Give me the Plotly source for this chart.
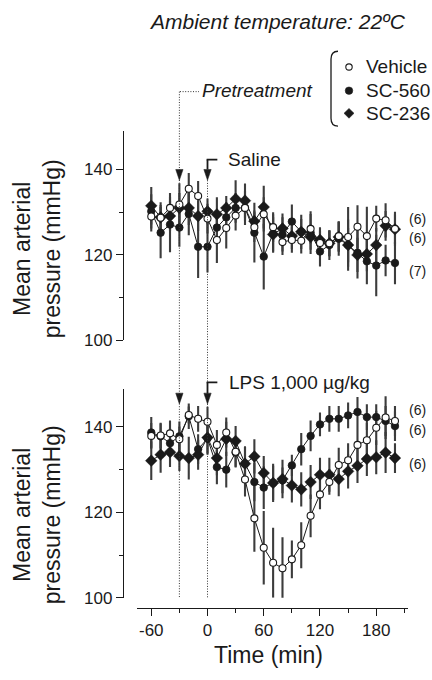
import plotly.graph_objects as go

# ---------------- data ----------------
time = [-60, -50, -40, -30, -20, -10, 0, 10, 20, 30, 40, 50, 60, 70, 80,
        90, 100, 110, 120, 130, 140, 150, 160, 170, 180, 190, 200]

# Top panel: Saline
veh_sal = [129.0, 128.7, 131.0, 131.8, 135.5, 133.8, 128.5, 123.5, 126.3, 129.2, 131.0, 126.5, 129.5, 126.5,
           123.0, 123.5, 123.3, 126.1, 122.8, 122.7, 124.4, 124.2, 126.6, 124.4, 128.5, 128.1, 126.1]
sc560_sal = [130.2, 125.2, 127.1, 126.4, 129.6, 121.9, 121.9, 126.4, 128.8, 131.0, 131.0, 125.2, 119.6, 125.0,
             124.8, 127.8, 125.4, 125.2, 120.8, 122.3, 123.8, 122.3, 120.5, 118.5, 117.5, 118.7, 118.1]
sc236_sal = [131.5, 128.8, 129.1, 131.0, 131.0, 129.1, 130.2, 129.5, 131.0, 133.1, 132.7, 127.9, 131.2, 124.8,
             126.2, 124.4, 125.4, 124.2, 123.5, 122.7, 124.2, 122.3, 120.0, 120.2, 122.3, 126.8, 126.0]
veh_sal_err = [3.5, 3, 3.5, 5, 3.7, 3.5, 3.5, 5.4, 4.8, 3.5, 3, 3.5, 4, 3.5, 3, 3, 3, 3.5, 3, 3, 3.5, 7, 5,
               6.9, 3, 4, 4]
sc560_sal_err = [4, 6, 6.5, 4.5, 5, 7.3, 6, 4, 3.5, 3.5, 4, 7, 7.7, 4.5, 4, 4, 4, 5, 3.5, 3.5, 4, 6, 6, 5.4,
                 7.2, 3.7, 5]
sc236_sal_err = [4.4, 3.5, 3.5, 3.5, 4, 3.5, 3, 4, 2.8, 4.4, 4, 2.5, 5, 4, 3.5, 3, 3, 3, 3, 3, 3.5, 4, 4, 4,
                 4, 3.5, 3.5]

# Bottom panel: LPS
veh_lps = [137.9, 138.0, 138.5, 137.1, 142.8, 141.9, 141.2, 135.8, 138.7, 134.2, 127.7, 118.6, 111.7, 108.2,
           106.9, 109.0, 112.3, 119.2, 124.2, 127.1, 131.1, 132.2, 135.8, 136.9, 139.8, 142.2, 141.4]
sc560_lps = [138.7, 137.8, 136.2, 137.8, 142.5, 134.8, 137.3, 130.6, 130.0, 134.0, 131.4, 127.1, 125.8, 126.9,
             127.5, 131.0, 134.8, 137.9, 140.6, 141.9, 141.9, 142.7, 143.5, 142.3, 142.3, 141.4, 140.2]
sc236_lps = [132.1, 133.5, 134.1, 133.2, 132.7, 133.5, 137.5, 132.7, 137.2, 136.7, 131.4, 133.1, 129.2, 126.9,
             127.8, 126.3, 125.4, 127.1, 128.8, 128.8, 127.8, 129.6, 130.9, 132.5, 132.9, 134.0, 132.7]
veh_lps_err = [3, 3, 3, 3, 2, 3, 3.5, 3.5, 3.5, 3.5, 4, 7.8, 8.6, 8.2, 7.3, 4.4, 5.4, 5, 3.5, 3, 4, 4, 4.2, 4,
               4, 5, 3.5]
sc560_lps_err = [3.6, 3, 3.5, 3.5, 3, 3.5, 3.5, 4, 4.2, 3.5, 4, 4.5, 5, 4, 3, 2.5, 3.8, 3.6, 2.8, 3, 3, 3, 3.5,
                 3, 3, 3.5, 3.5]
sc236_lps_err = [4.5, 4.2, 3.5, 3.5, 5, 3.5, 4, 4, 4, 3.5, 4, 4, 4, 4.5, 4.5, 4, 4, 4, 4, 4, 4, 4, 4, 4, 4,
                 4.8, 3.5]

series_names = ["Vehicle", "SC-560", "SC-236"]
n_labels_sal = ["(6)", "(6)", "(7)"]
n_pos_sal = [128.5, 123.9, 116.3]
n_labels_lps = ["(6)", "(6)", "(6)"]
n_pos_lps = [144.0, 139.4, 131.3]

x_ticks = [-60, 0, 60, 120, 180]
x_ticktext = ["-60", "0", "60", "120", "180"]
x_minor = [-30, 30, 90, 150, 210]
y_ticks = [100, 120, 140]
y_minor = [110, 130]

# ---------------- layout helpers ----------------
W, H = 432, 680
FONT = "Liberation Sans, Arial, sans-serif"
INK = "#1a1a1a"


def px(x):
    return x / W


def py(y):
    return 1 - y / H


styles = {
    "Vehicle": dict(symbol="circle", color="white", size=7, line=dict(color=INK, width=1.1)),
    "SC-560": dict(symbol="circle", color=INK, size=7.5, line=dict(color=INK, width=0.8)),
    "SC-236": dict(symbol="diamond", color=INK, size=9, line=dict(color=INK, width=0.4)),
}

fig = go.Figure()

panels = [
    ("x", "y", [veh_sal, sc560_sal, sc236_sal], [veh_sal_err, sc560_sal_err, sc236_sal_err]),
    ("x2", "y2", [veh_lps, sc560_lps, sc236_lps], [veh_lps_err, sc560_lps_err, sc236_lps_err]),
]

for xa, ya, vals, errs in panels:
    # error bars first (behind everything)
    for name, v, e in zip(series_names, vals, errs):
        fig.add_trace(go.Scatter(
            x=time, y=v, xaxis=xa, yaxis=ya, mode="markers",
            marker=dict(size=1, color="rgba(0,0,0,0)"),
            error_y=dict(type="data", array=e, visible=True, color="#3c3c3c", thickness=2.1, width=0),
            showlegend=False, hoverinfo="skip"))
    # lines + markers, SC-236 then SC-560 then Vehicle on top
    for idx in [2, 1, 0]:
        name = series_names[idx]
        fig.add_trace(go.Scatter(
            x=time, y=vals[idx], xaxis=xa, yaxis=ya, mode="lines+markers",
            line=dict(color=INK, width=1.0), marker=styles[name],
            showlegend=False, name=name, cliponaxis=False))

xdom = [px(137.2), px(408.1)]
xr = [-75, 214]
yr = [100, 149]

axis_common = dict(showgrid=False, zeroline=False, showline=True, linecolor=INK, linewidth=1.3,
                   ticks="outside", tickcolor=INK, tickwidth=1.3,
                   tickfont=dict(family=FONT, size=17, color=INK))

fig.update_layout(
    width=W, height=H, margin=dict(l=0, r=0, t=0, b=0),
    paper_bgcolor="white", plot_bgcolor="white",
    font=dict(family=FONT, color=INK),
    showlegend=False,
    xaxis=dict(domain=xdom, range=xr, visible=False, anchor="y"),
    yaxis=dict(domain=[py(345.4), py(133.0)], range=yr, anchor="free", position=px(123),
               tickmode="array", tickvals=y_ticks, ticklen=7,
               minor=dict(tickmode="array", tickvals=y_minor, ticklen=3.5, ticks="outside",
                          tickcolor=INK, tickwidth=1.3, showgrid=False),
               **axis_common),
    xaxis2=dict(domain=xdom, range=xr, anchor="free", position=py(617),
                tickmode="array", tickvals=x_ticks, ticktext=x_ticktext, ticklen=7,
                minor=dict(tickmode="array", tickvals=x_minor, ticklen=4, ticks="outside",
                           tickcolor=INK, tickwidth=1.3, showgrid=False),
                **axis_common),
    yaxis2=dict(domain=[py(606.7), py(394.3)], range=yr, anchor="free", position=px(123),
                tickmode="array", tickvals=y_ticks, ticklen=7,
                minor=dict(tickmode="array", tickvals=y_minor, ticklen=3.5, ticks="outside",
                           tickcolor=INK, tickwidth=1.3, showgrid=False),
                **axis_common),
)

ann = []
ann.append(dict(text="<i>Ambient temperature: 22ºC</i>", x=px(277.5), y=py(22), xref="paper", yref="paper",
                showarrow=False, font=dict(size=21), xanchor="center", yanchor="middle"))
ann.append(dict(text="<i>Pretreatment</i>", x=px(315), y=py(92), xref="paper", yref="paper",
                showarrow=False, font=dict(size=19), xanchor="right", yanchor="middle"))
ann.append(dict(text="Saline", x=px(226), y=py(162), xref="paper", yref="paper",
                showarrow=False, font=dict(size=19), xanchor="left", yanchor="middle"))
ann.append(dict(text="LPS 1,000 µg/kg", x=px(227), y=py(388), xref="paper", yref="paper",
                showarrow=False, font=dict(size=19), xanchor="left", yanchor="middle"))
# legend texts
legend_y = [68, 92, 115]
for name, ly in zip(series_names, legend_y):
    ann.append(dict(text=name, x=px(364), y=py(ly), xref="paper", yref="paper",
                    showarrow=False, font=dict(size=19), xanchor="left", yanchor="middle"))
for lab, yv in zip(n_labels_sal, n_pos_sal):
    ann.append(dict(text=lab, x=px(407), y=yv, xref="paper", yref="y", showarrow=False,
                    font=dict(size=14), xanchor="left", yanchor="middle"))
for lab, yv in zip(n_labels_lps, n_pos_lps):
    ann.append(dict(text=lab, x=px(407), y=yv, xref="paper", yref="y2", showarrow=False,
                    font=dict(size=14), xanchor="left", yanchor="middle"))
for yc in [253, 523]:
    ann.append(dict(text="Mean arterial<br>pressure (mmHg)", x=px(37), y=py(yc), xref="paper", yref="paper",
                    showarrow=False, font=dict(size=23), textangle=-90, xanchor="center", yanchor="middle"))
ann.append(dict(text="Time (min)", x=px(268), y=py(665), xref="paper", yref="paper",
                showarrow=False, font=dict(size=23), xanchor="center", yanchor="middle"))
fig.update_layout(annotations=ann)

# ---------------- shapes ----------------
shapes = []
dot = dict(color="#333", width=1, dash="1px,1.6px")
# pretreatment dotted connector
shapes.append(dict(type="line", xref="paper", yref="paper", x0=px(180), x1=px(199), y0=py(93), y1=py(93), line=dot))
shapes.append(dict(type="line", xref="x2", yref="paper", x0=-30, x1=-30, y0=py(93), y1=py(606.7), line=dot))
shapes.append(dict(type="line", xref="x2", yref="paper", x0=0, x1=0, y0=py(183), y1=py(606.7), line=dot))

hw = 3.9  # half width of arrow head in minutes


def tri(t, ytop, ytip):
    return f"M {t-hw},{py(ytop)} L {t+hw},{py(ytop)} L {t},{py(ytip)} Z"


for ytxt, ytop, ytip in [(162, 172, 183), (388, 399, 410)]:
    for t in [-30, 0]:
        shapes.append(dict(type="path", xref="x2", yref="paper", path=tri(t, ytop, ytip),
                           fillcolor=INK, line=dict(color=INK, width=0.5)))
    shapes.append(dict(type="line", xref="x2", yref="paper", x0=0, x1=0, y0=py(ytxt), y1=py(ytop),
                       line=dict(color=INK, width=1.8)))
    shapes.append(dict(type="line", xref="x2", yref="paper", x0=-0.9, x1=10.5, y0=py(ytxt), y1=py(ytxt),
                       line=dict(color=INK, width=1.8)))

# legend bracket
bx, bx2 = 331, 338
shapes.append(dict(type="path", xref="paper", yref="paper",
                   path=(f"M {px(bx2)},{py(52)} Q {px(bx)},{py(52)} {px(bx)},{py(60)} "
                         f"L {px(bx)},{py(120)} Q {px(bx)},{py(128)} {px(bx2)},{py(128)}"),
                   line=dict(color=INK, width=1.3)))

# legend keys
mx = 349
shapes.append(dict(type="circle", xref="paper", yref="paper", x0=px(mx - 3.2), x1=px(mx + 3.2),
                   y0=py(68 + 3.2), y1=py(68 - 3.2), fillcolor="white", line=dict(color=INK, width=1.1)))
shapes.append(dict(type="circle", xref="paper", yref="paper", x0=px(mx - 3.8), x1=px(mx + 3.8),
                   y0=py(92 + 3.8), y1=py(92 - 3.8), fillcolor=INK, line=dict(color=INK, width=0.5)))
d = 5.0
shapes.append(dict(type="path", xref="paper", yref="paper",
                   path=(f"M {px(mx - d)},{py(115)} L {px(mx)},{py(115 - d)} L {px(mx + d)},{py(115)} "
                         f"L {px(mx)},{py(115 + d)} Z"),
                   fillcolor=INK, line=dict(color=INK, width=0.5)))
fig.update_layout(shapes=shapes)

fig.write_html("out.html", config={"displayModeBar": False},
               post_script="document.body.style.margin='0';document.body.style.padding='0';")
